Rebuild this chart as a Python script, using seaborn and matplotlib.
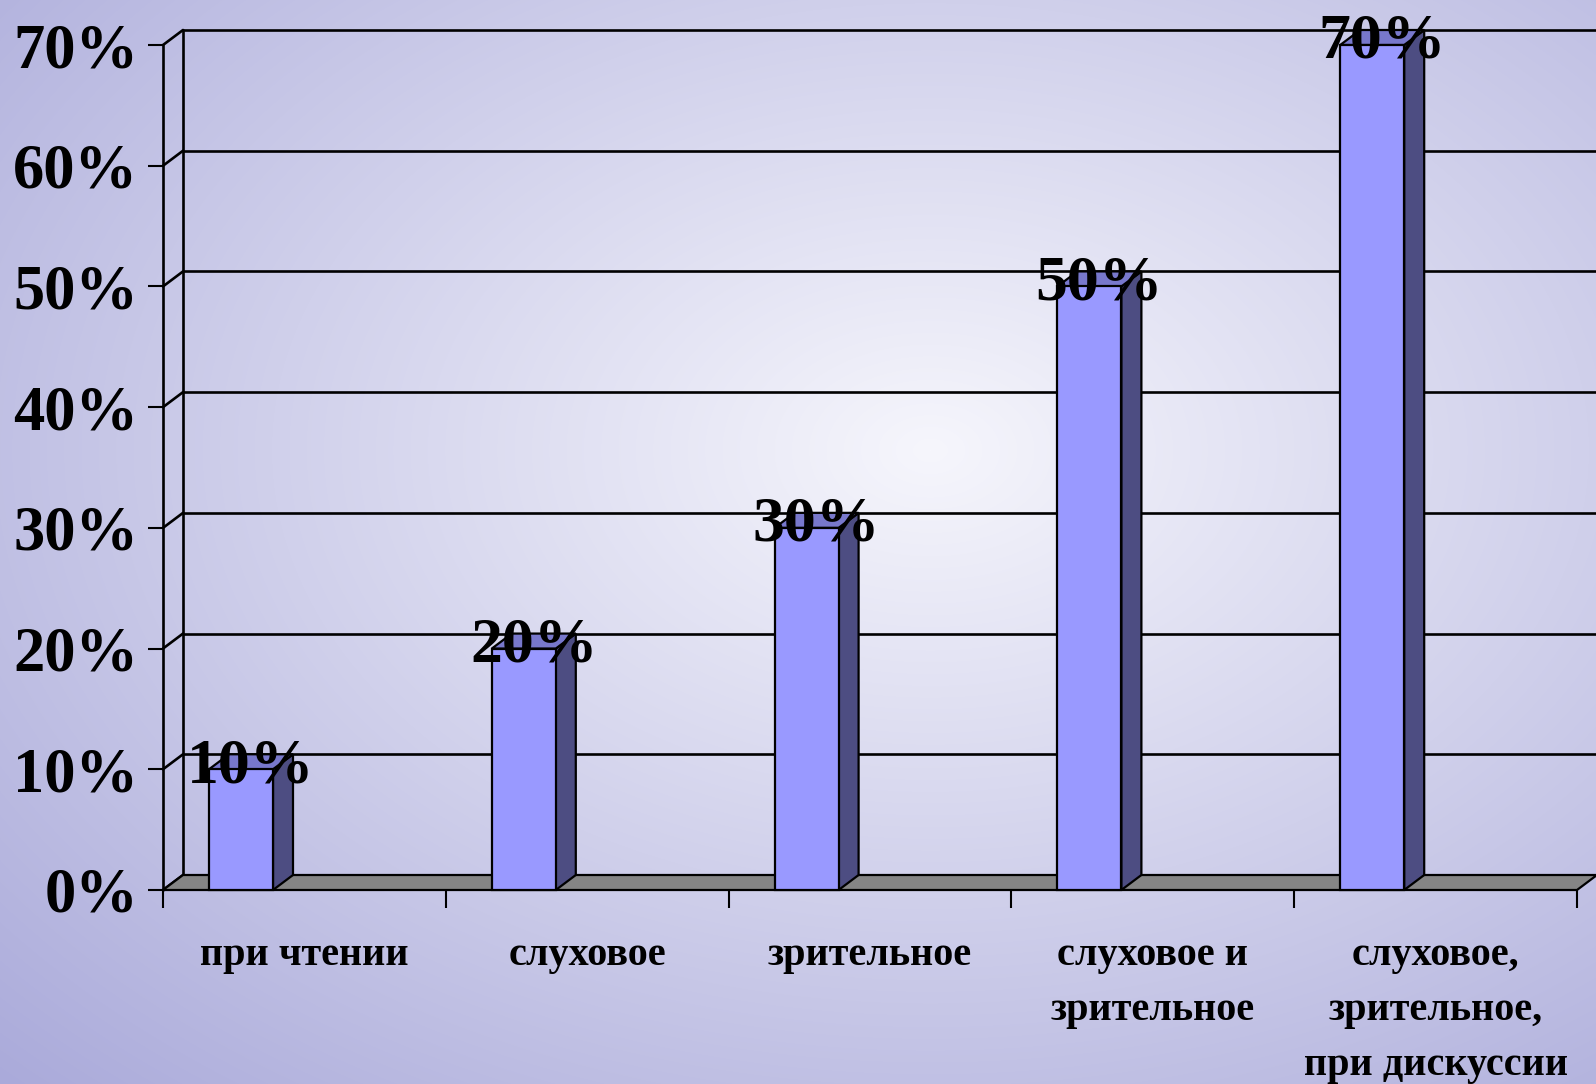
import numpy as np
import matplotlib
matplotlib.use("Agg")
import matplotlib.pyplot as plt
import seaborn as sns
import pandas as pd
from matplotlib.patches import Polygon

categories = ["при чтении", "слуховое", "зрительное",
              "слуховое и\nзрительное", "слуховое,\nзрительное,\nпри дискуссии"]
values = [10, 20, 30, 50, 70]
value_labels = ["10%", "20%", "30%", "50%", "70%"]
yticks = [0, 10, 20, 30, 40, 50, 60, 70]
ytick_labels = ["0%", "10%", "20%", "30%", "40%", "50%", "60%", "70%"]

sns.set_theme(style="white")
plt.rcParams['font.family'] = ['Liberation Serif', 'DejaVu Serif']

W, H = 1596, 1084
fig = plt.figure(figsize=(W / 100, H / 100), dpi=100)

# background radial gradient
bg = fig.add_axes([0, 0, 1, 1])
bg.axis('off')
yy, xx = np.mgrid[0:H, 0:W]
cx, cy = 930, 450
r = np.sqrt(((xx - cx) / W) ** 2 + ((yy - cy) / H) ** 2)
t = np.clip(r / r.max(), 0, 1)
c0 = np.array([246, 246, 252]) / 255
c1 = np.array([170, 170, 218]) / 255
img = c0[None, None, :] * (1 - t[..., None]) + c1[None, None, :] * t[..., None]
bg.imshow(img, extent=[0, 1, 0, 1], aspect='auto', origin='upper', zorder=0)
bg.set_xlim(0, 1)
bg.set_ylim(0, 1)

# main axes (front plane)
left_px, right_px, base_px, top_px = 163, 1577, 890, 45
ax = fig.add_axes([left_px / W, (H - base_px) / H, (right_px - left_px) / W, (base_px - top_px) / H])
ax.set_facecolor('none')

cat_px = (right_px - left_px) / len(categories)
bar_w = 64 / cat_px
shift = 0.5 - 46 / cat_px - bar_w / 2

df = pd.DataFrame({"cat": categories, "val": values})
sns.barplot(data=df, x="cat", y="val", ax=ax, color="#9999ff", saturation=1,
            width=bar_w, edgecolor="black", linewidth=1.6, zorder=5)
bars = list(ax.patches)

x0, x1 = -0.5 + shift, len(categories) - 0.5 + shift
ax.set_xlim(x0, x1)
ax.set_ylim(0, 70)

px_per_y = (base_px - top_px) / 70
dx = 20 / cat_px
dy = 15 / px_per_y

lw = 1.9
# back wall gridlines and diagonals
for v in yticks:
    ax.plot([x0 + dx, x1 + dx + 0.2], [v + dy, v + dy], color="black", lw=lw,
            clip_on=False, zorder=1, solid_capstyle='butt')
    ax.plot([x0, x0 + dx], [v, v + dy], color="black", lw=lw, clip_on=False, zorder=1)
ax.plot([x0 + dx, x0 + dx], [dy, 70 + dy], color="black", lw=lw, clip_on=False, zorder=1)
ax.plot([x0, x0], [0, 70], color="black", lw=lw, clip_on=False, zorder=3)

# floor
floor = Polygon([(x0, 0), (x1, 0), (x1 + dx, dy), (x0 + dx, dy)], closed=True,
                facecolor="#858585", edgecolor="black", lw=1.6, clip_on=False, zorder=2)
ax.add_patch(floor)

# 3D faces of bars
for p, lab in zip(bars, value_labels):
    bx, bw, bh = p.get_x(), p.get_width(), p.get_height()
    side = Polygon([(bx + bw, 0), (bx + bw + dx, dy), (bx + bw + dx, bh + dy), (bx + bw, bh)],
                   closed=True, facecolor="#4d4d82", edgecolor="black", lw=1.6, zorder=4, clip_on=False)
    top = Polygon([(bx, bh), (bx + bw, bh), (bx + bw + dx, bh + dy), (bx + dx, bh + dy)],
                  closed=True, facecolor="#7878cc", edgecolor="black", lw=1.6, zorder=4, clip_on=False)
    ax.add_patch(side)
    ax.add_patch(top)
    p.set_clip_on(False)
    ax.text(bx + bw / 2 + dx / 2, bh + dy / 2 - 0.45, lab, ha="center", va="center",
            fontsize=46, fontweight="bold", color="black", zorder=10, clip_on=False)

for s in ax.spines.values():
    s.set_visible(False)

ax.set_yticks(yticks)
ax.set_yticklabels(ytick_labels, fontsize=45, fontweight="bold", color="black")
ax.tick_params(axis='y', direction='out', length=11, width=1.5, pad=7, left=True, color="black")

ax.set_xticks([x0 + k for k in range(len(categories) + 1)])
ax.set_xticklabels([])
ax.tick_params(axis='x', which='major', direction='out', length=13, width=1.5, bottom=True, color="black")
for i, c in enumerate(categories):
    ax.text(i + shift, -3.9, c, ha="center", va="top", fontsize=29, fontweight="bold",
            color="black", linespacing=1.65, clip_on=False)
ax.set_xlabel("")
ax.set_ylabel("")
ax.grid(False)

fig.savefig("out.png", dpi=100)
